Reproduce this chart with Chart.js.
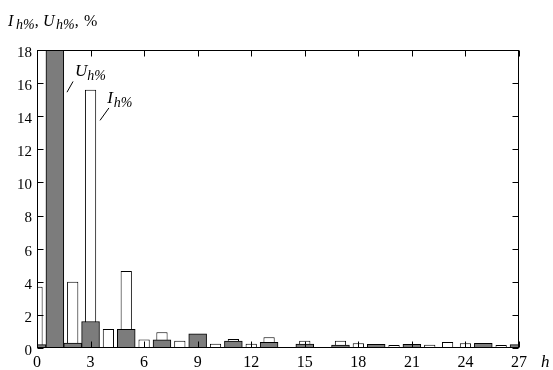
<!DOCTYPE html>
<html>
<head>
<meta charset="utf-8">
<script src="https://cdn.jsdelivr.net/npm/chart.js@4"></script>
<style>
  body { margin: 0; background: #fff; }
  canvas { display: block; }
</style>
</head>
<body>
<canvas id="spectrum" width="553" height="370"></canvas>
<script>
// harmonic order
const harmonics = [0, 1, 2, 3, 4, 5, 6, 7, 8, 9, 10, 11, 12, 13, 14, 15, 16, 17, 18, 19, 20, 21, 22, 23, 24, 25, 26, 27];
// current harmonics Ih%, white bars
const currentValues = [3.7, 100, 4.0, 15.6, 1.15, 4.65, 0.52, 0.95, 0.44, 0.7, 0.26, 0.54, 0.26, 0.65, 0, 0.44,
    0, 0.44, 0.28, 0.15, 0.18, 0.15, 0.2, 0.36, 0.28, 0.2, 0.18, 0.15];
// voltage harmonics Uh%, grey bars
const voltageValues = [0.2, 100, 0.3, 1.6, 0, 1.13, 0, 0.5, 0, 0.85, 0, 0.42, 0, 0.34, 0, 0.24,
    0, 0.18, 0, 0.22, 0, 0.22, 0, 0, 0, 0.28, 0, 0.2];
const yTicks = [0, 2, 4, 6, 8, 10, 12, 14, 16, 18];
const xTickStep = 3;

const serif = "'Liberation Serif', serif";

// draws text made of pieces (main text + subscripts)
function drawRich(ctx, x, y, parts) {
    parts.forEach(p => {
        ctx.font = p.font;
        const px = p.x !== undefined ? p.x : x;
        ctx.fillText(p.t, px, y + (p.dy || 0));
        x = px + ctx.measureText(p.t).width + (p.gap || 0);
    });
}

const framePlugin = {
    id: 'frame',
    afterDatasetsDraw(chart) {
        const {ctx, chartArea: a, scales: {x, y}} = chart;
        const L = Math.round(a.left) + 0.5, R = Math.round(a.right) - 0.5;
        const T = Math.round(a.top) + 0.5, B = Math.round(a.bottom) - 0.5;
        ctx.save();
        ctx.strokeStyle = '#000';
        ctx.lineWidth = 1;
        ctx.strokeRect(L, T, R - L, B - T);
        ctx.beginPath();
        // inward ticks, all four sides
        harmonics.forEach((h, i) => {
            if (i % xTickStep !== 0) return;
            const px = Math.round(x.getPixelForValue(i)) + 0.5;
            ctx.moveTo(px, B); ctx.lineTo(px, B - 6);
            ctx.moveTo(px, T); ctx.lineTo(px, T + 6);
        });
        yTicks.forEach(v => {
            const py = Math.round(y.getPixelForValue(v)) + 0.5;
            ctx.moveTo(L, py); ctx.lineTo(L + 6, py);
            ctx.moveTo(R, py); ctx.lineTo(R - 6, py);
        });
        ctx.stroke();

        // leader lines for the series labels
        ctx.beginPath();
        ctx.moveTo(x.getPixelForValue(1.68), y.getPixelForValue(15.45));
        ctx.lineTo(x.getPixelForValue(2.02), y.getPixelForValue(16.1));
        ctx.moveTo(x.getPixelForValue(3.53), y.getPixelForValue(13.75));
        ctx.lineTo(x.getPixelForValue(4.03), y.getPixelForValue(14.5));
        ctx.stroke();

        ctx.fillStyle = '#000';
        ctx.textBaseline = 'alphabetic';
        drawRich(ctx, x.getPixelForValue(2.13), y.getPixelForValue(16.4), [
            {t: 'U', font: 'italic 17px ' + serif},
            {t: 'h%', font: 'italic 14px ' + serif, dy: 4}
        ]);
        drawRich(ctx, x.getPixelForValue(3.93), y.getPixelForValue(14.8), [
            {t: 'I', font: 'italic 17px ' + serif, gap: 1},
            {t: 'h%', font: 'italic 14px ' + serif, dy: 4}
        ]);

        // axis titles
        drawRich(ctx, 8, 26, [
            {t: 'I', font: 'italic 16px ' + serif, x: 8},
            {t: 'h%', font: 'italic 14px ' + serif, dy: 3, x: 16},
            {t: ',', font: '16px ' + serif},
            {t: 'U', font: 'italic 16px ' + serif, x: 43},
            {t: 'h%', font: 'italic 14px ' + serif, dy: 3, x: 56},
            {t: ',', font: '16px ' + serif},
            {t: '%', font: '16px ' + serif, x: 84}
        ]);
        ctx.font = 'italic 17px ' + serif;
        ctx.fillText('h', 541, 367);
        ctx.restore();
    }
};

new Chart(document.getElementById('spectrum'), {
    type: 'bar',
    data: {
        labels: harmonics,
        datasets: [{
            label: 'Uh%',
            data: voltageValues,
            backgroundColor: '#7c7c7c',
            borderColor: '#000',
            borderWidth: 1,
            grouped: false,
            barPercentage: 1,
            categoryPercentage: 1
        }, {
            label: 'Ih%',
            data: currentValues,
            backgroundColor: '#fff',
            borderColor: '#000',
            borderWidth: 1,
            grouped: false,
            barPercentage: 0.63,
            categoryPercentage: 1
        }]
    },
    options: {
        responsive: false,
        animation: false,
        layout: { padding: { left: 0, top: 50, right: 34, bottom: 0 } },
        plugins: { legend: { display: false }, tooltip: { enabled: false } },
        scales: {
            x: {
                type: 'category',
                offset: false,
                grid: { display: false },
                border: { display: false },
                ticks: {
                    autoSkip: false,
                    maxRotation: 0,
                    padding: -3,
                    color: '#000',
                    font: { family: serif, size: 16 },
                    callback: function (val, idx) {
                        return idx % xTickStep === 0 ? this.getLabelForValue(val) : '';
                    }
                },
                afterFit: s => { s.height = 22; }
            },
            y: {
                min: 0,
                max: 18,
                grid: { display: false },
                border: { display: false },
                ticks: {
                    stepSize: 2,
                    padding: -3,
                    labelOffset: 3,
                    color: '#000',
                    font: { family: serif, size: 15 }
                },
                afterFit: s => { s.width = 37; }
            }
        }
    },
    plugins: [framePlugin]
});
</script>
</body>
</html>
